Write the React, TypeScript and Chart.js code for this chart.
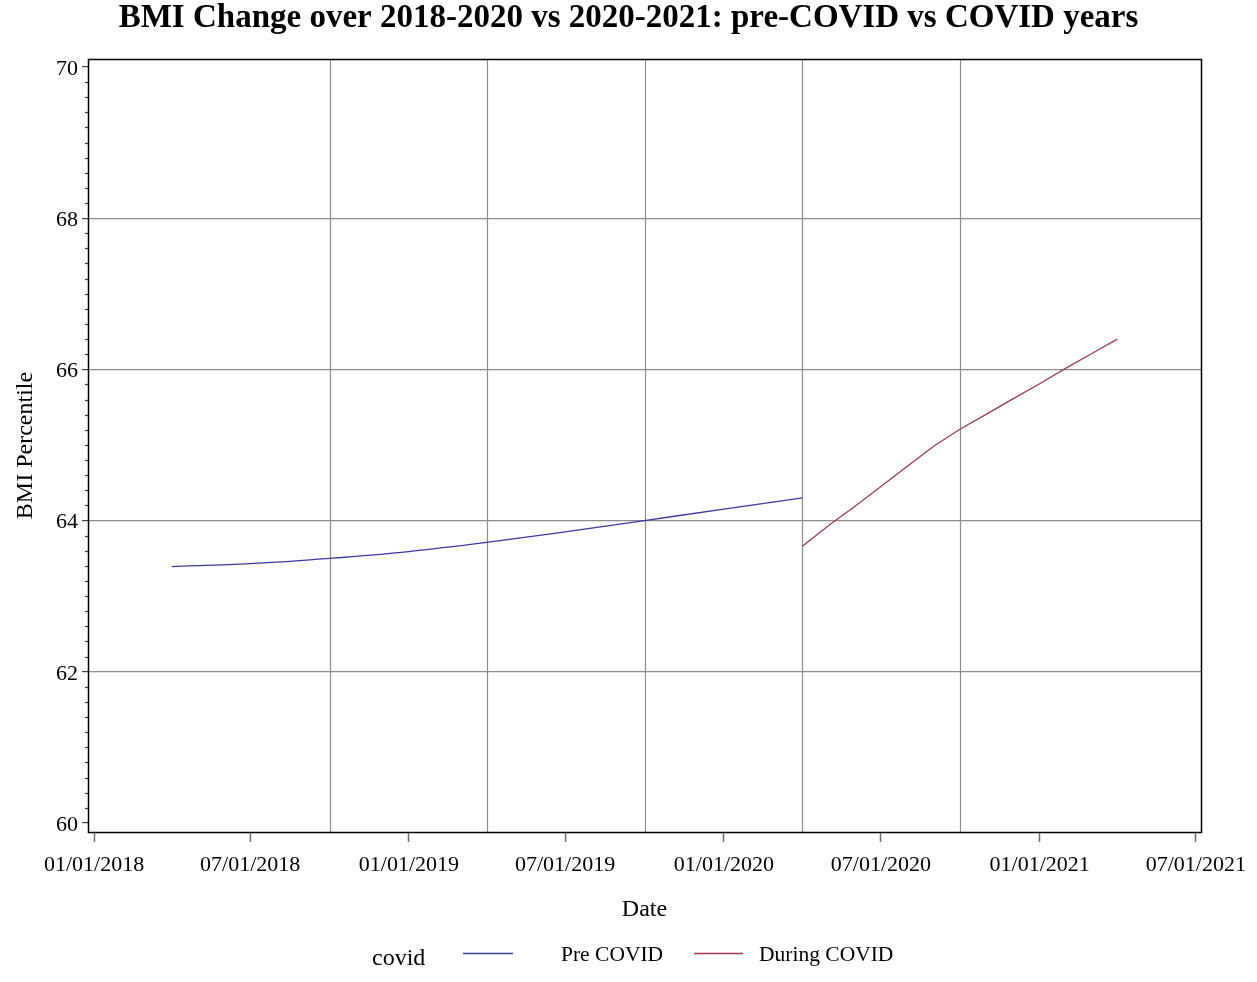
import React, { useEffect, useRef } from 'react';
import { Chart, registerables } from 'chart.js';

Chart.register(...registerables);

// ---- data ----
const preCovidDates = [
  '2018-04-01', '2018-07-01', '2018-10-01', '2019-01-01', '2019-04-01',
  '2019-07-01', '2019-10-01', '2020-01-01', '2020-04-01',
];
const preCovidBmi = [63.39, 63.43, 63.5, 63.59, 63.71, 63.85, 64.0, 64.15, 64.3];

const duringCovidDates = [
  '2020-04-01', '2020-05-01', '2020-06-01', '2020-07-01', '2020-08-01', '2020-09-01',
  '2020-10-01', '2020-11-01', '2020-12-01', '2021-01-01', '2021-02-01', '2021-03-01',
  '2021-04-01',
];
const duringCovidBmi = [
  63.66, 63.93, 64.19, 64.45, 64.72, 64.99, 65.21, 65.41, 65.61, 65.81, 66.02, 66.2, 66.4,
];

const xTickDates = [
  '2018-01-01', '2018-07-01', '2019-01-01', '2019-07-01',
  '2020-01-01', '2020-07-01', '2021-01-01', '2021-07-01',
];
const xGridDates = ['2018-10-01', '2019-04-01', '2019-10-01', '2020-04-01', '2020-10-01'];
const xRange = ['2017-12-25', '2021-07-07'];
const yTickValues = [60, 62, 64, 66, 68, 70];
const yGridValues = [62, 64, 66, 68];
const yRange = [59.88, 70.105];
const yMinorStep = 0.2;

const TITLE = 'BMI Change over 2018-2020 vs 2020-2021: pre-COVID vs COVID years';
const LEGEND_TITLE = 'covid';
const FONT = '"Liberation Serif", "Times New Roman", serif';
const BLUE = '#3a3a9c';
const RED = '#a0384f';

const toMs = (s: string) => Date.parse(s + 'T00:00:00Z');
const fmtDate = (v: number) => {
  const d = new Date(v);
  const mm = String(d.getUTCMonth() + 1).padStart(2, '0');
  const dd = String(d.getUTCDate()).padStart(2, '0');
  return `${mm}/${dd}/${d.getUTCFullYear()}`;
};

const sasPlugin = {
  id: 'sasDecor',
  beforeDatasetsDraw(chart: any) {
    const { ctx, chartArea, scales } = chart;
    ctx.save();
    ctx.strokeStyle = '#8c8c8c';
    ctx.lineWidth = 1.2;
    xGridDates.forEach((d) => {
      const px = Math.round(scales.x.getPixelForValue(toMs(d))) + 0.5;
      ctx.beginPath();
      ctx.moveTo(px, chartArea.top);
      ctx.lineTo(px, chartArea.bottom);
      ctx.stroke();
    });
    ctx.restore();
  },
  afterDraw(chart: any) {
    const { ctx, chartArea, scales } = chart;
    ctx.save();
    // minor y ticks
    ctx.strokeStyle = '#444';
    ctx.lineWidth = 1.2;
    const y = scales.y;
    const n = Math.round((yTickValues[yTickValues.length - 1] - yTickValues[0]) / yMinorStep);
    for (let i = 0; i <= n; i++) {
      const v = yTickValues[0] + i * yMinorStep;
      if (yTickValues.some((t) => Math.abs(t - v) < 1e-6)) continue;
      const py = Math.round(y.getPixelForValue(v)) + 0.5;
      ctx.beginPath();
      ctx.moveTo(chartArea.left - 3, py);
      ctx.lineTo(chartArea.left, py);
      ctx.stroke();
    }
    // frame
    ctx.strokeStyle = '#000';
    ctx.lineWidth = 1.5;
    ctx.strokeRect(chartArea.left + 0.5, chartArea.top + 0.5, chartArea.right - chartArea.left, chartArea.bottom - chartArea.top);
    // legend
    const ds = chart.data.datasets;
    ctx.fillStyle = '#000';
    ctx.textBaseline = 'middle';
    ctx.textAlign = 'left';
    ctx.font = `24px ${FONT}`;
    ctx.fillText(LEGEND_TITLE, 372, 959);
    const items = [
      { x0: 463, x1: 513, tx: 561 },
      { x0: 694, x1: 743, tx: 759 },
    ];
    items.forEach((it, i) => {
      ctx.strokeStyle = ds[i].borderColor;
      ctx.lineWidth = 1.3;
      ctx.beginPath();
      ctx.moveTo(it.x0, 953.5);
      ctx.lineTo(it.x1, 953.5);
      ctx.stroke();
      ctx.font = `21.5px ${FONT}`;
      ctx.fillStyle = '#000';
      ctx.fillText(ds[i].label, it.tx, 955);
    });
    ctx.restore();
  },
};

export default function App() {
  const canvasRef = useRef<HTMLCanvasElement | null>(null);

  useEffect(() => {
    if (!canvasRef.current) return;
    const chart = new Chart(canvasRef.current, {
      type: 'line',
      data: {
        datasets: [
          {
            label: 'Pre COVID',
            data: preCovidDates.map((d, i) => ({ x: toMs(d), y: preCovidBmi[i] })),
            borderColor: BLUE,
            borderWidth: 1.3,
            pointRadius: 0,
            cubicInterpolationMode: 'monotone',
            fill: false,
          },
          {
            label: 'During COVID',
            data: duringCovidDates.map((d, i) => ({ x: toMs(d), y: duringCovidBmi[i] })),
            borderColor: RED,
            borderWidth: 1.3,
            pointRadius: 0,
            tension: 0,
            fill: false,
          },
        ],
      },
      options: {
        animation: false,
        responsive: false,
        devicePixelRatio: 1,
        layout: { padding: { left: 0, right: 0, top: 0, bottom: 57.6 } },
        plugins: {
          legend: { display: false },
          tooltip: { enabled: false },
          title: {
            display: true,
            text: TITLE,
            color: '#000',
            font: { family: FONT, size: 33, weight: 'bold', lineHeight: 1 },
            padding: { top: 1.5, bottom: 24.5 },
          },
        },
        scales: {
          x: {
            type: 'linear',
            min: toMs(xRange[0]),
            max: toMs(xRange[1]),
            afterBuildTicks: (s: any) => {
              s.ticks = xTickDates.map((d) => ({ value: toMs(d) }));
            },
            afterFit: (s: any) => {
              s.height = 92.4;
            },
            ticks: {
              callback: (v: any) => fmtDate(Number(v)),
              font: { family: FONT, size: 22 },
              color: '#000',
              padding: 10.5,
              maxRotation: 0,
              autoSkip: false,
            },
            grid: {
              drawOnChartArea: false,
              drawTicks: true,
              tickLength: 10,
              tickColor: '#6e6e6e',
              tickWidth: 1.5,
            },
            border: { display: false },
            title: {
              display: true,
              text: 'Date',
              color: '#000',
              font: { family: FONT, size: 24 },
              padding: { top: 0, bottom: 0 },
            },
          },
          y: {
            type: 'linear',
            min: yRange[0],
            max: yRange[1],
            afterBuildTicks: (s: any) => {
              s.ticks = yTickValues.map((v) => ({ value: v }));
            },
            afterFit: (s: any) => {
              s.width = 88;
            },
            ticks: {
              callback: (v: any) => String(v),
              font: { family: FONT, size: 22 },
              color: '#000',
              padding: 4,
              labelOffset: 2,
            },
            grid: {
              color: (c: any) =>
                c.tick && yGridValues.includes(c.tick.value) ? '#8c8c8c' : 'rgba(0,0,0,0)',
              lineWidth: 1.2,
              tickColor: '#444',
              tickWidth: 1.2,
              tickLength: 6,
            },
            border: { display: false },
            title: {
              display: true,
              text: 'BMI Percentile',
              color: '#000',
              font: { family: FONT, size: 24 },
              padding: { top: 11.6, bottom: 0 },
            },
          },
          yRightSpace: {
            type: 'linear',
            position: 'right',
            display: true,
            ticks: { display: false },
            grid: { display: false, drawTicks: false },
            border: { display: false },
            afterFit: (s: any) => {
              s.width = 56;
            },
          },
        },
      },
      plugins: [sasPlugin],
    } as any);
    return () => chart.destroy();
  }, []);

  return (
    <div style={{ position: 'absolute', left: 0, top: 0, width: 1257, height: 982, background: '#fff' }}>
      <canvas ref={canvasRef} width={1257} height={982} style={{ display: 'block', width: 1257, height: 982 }} />
    </div>
  );
}
